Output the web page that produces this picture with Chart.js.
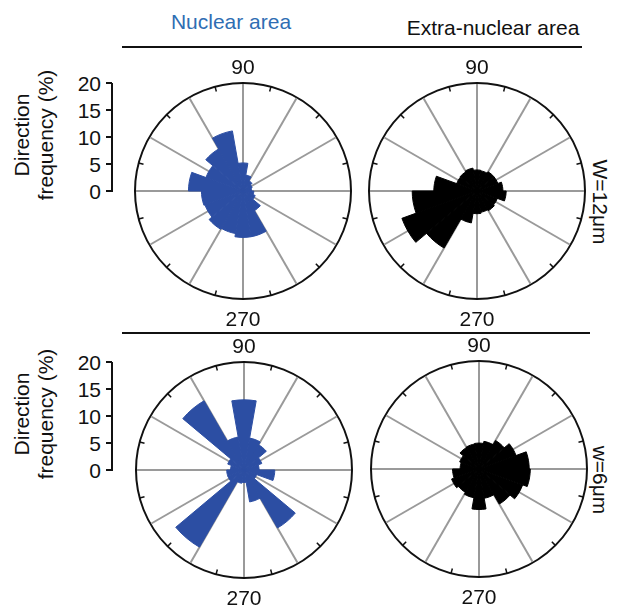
<!DOCTYPE html>
<html>
<head>
<meta charset="utf-8">
<script src="https://cdn.jsdelivr.net/npm/chart.js@4.4.1/dist/chart.umd.min.js"></script>
<style>
  body { margin: 0; background: #fff; }
  #page { position: relative; width: 617px; height: 610px; overflow: hidden; background: #fff;
          font-family: "Liberation Sans", Arial, Helvetica, sans-serif; color: #111; }
  canvas { position: absolute; }
  .txt { position: absolute; font-size: 21px; line-height: 21px; white-space: nowrap; }
  .ctr { transform: translateX(-50%); }
  .hline { position: absolute; height: 2px; background: #111; }
  .rot-l { position: absolute; font-size: 21px; line-height: 24px; text-align: center;
           transform: translate(-50%, -50%) rotate(-90deg); white-space: nowrap; }
  .rot-r { position: absolute; font-size: 21px; line-height: 21px;
           transform: translate(-50%, -50%) rotate(90deg); white-space: nowrap; }
</style>
</head>
<body>
<div id="page">
  <div class="txt ctr" style="left:231px; top:11px; color:#2f6db3;">Nuclear area</div>
  <div class="txt ctr" style="left:493px; top:17px;">Extra-nuclear area</div>
  <div class="hline" style="left:122px; top:46px; width:460px;"></div>
  <div class="hline" style="left:122px; top:332px; width:468px;"></div>

  <div class="rot-l" style="left:34px; top:135px;">Direction<br>frequency (%)</div>
  <div class="rot-l" style="left:34px; top:414px;">Direction<br>frequency (%)</div>
  <div class="rot-r" style="left:600px; top:202px;">W=12μm</div>
  <div class="rot-r" style="left:600px; top:480px;">w=6μm</div>

  <canvas id="roseA"></canvas>
  <canvas id="roseB"></canvas>
  <canvas id="roseC"></canvas>
  <canvas id="roseD"></canvas>
</div>

<script>
// direction bins (20 deg wide), centre angle in degrees
const binCenters = [10, 30, 50, 70, 90, 110, 130, 150, 170, 190, 210, 230, 250, 270, 290, 310, 330, 350];

// direction frequency (%) per bin
const nuclearW12 = [1.6, 1.8, 2.2, 3, 5.2, 11.3, 9, 7.3, 10.1, 7.7, 7.5, 8.2, 8, 8.6, 8.6, 4.2, 2.4, 2];
const extraW12   = [4.8, 4.1, 4.1, 3.8, 3.9, 4.3, 4.1, 4, 8, 12, 14.8, 12.2, 6, 4.2, 4, 4.2, 4, 5.4];
const nuclearW6  = [2.8, 3.5, 5.4, 6, 13, 6.2, 14.8, 3.2, 2.5, 3.2, 3.2, 16.5, 2.5, 2.3, 6, 12.4, 2.5, 5.7];
const extraW6    = [9.3, 7.3, 6.1, 5.2, 4.8, 4.7, 4.6, 3.8, 3.5, 4.9, 5.4, 5, 5.4, 7.5, 5.5, 7.5, 8.6, 9.5];

const freqTicks = [0, 5, 10, 15, 20];
const spokeAngles = [0, 30, 60, 90, 120, 150, 180, 210, 240, 270, 300, 330];
const angleLabels = ["90", "270"];

const R = 108;
const PAD = 6;
const blue = "#2c4ea3";
const black = "#000000";

const spokes = {
  id: "spokes",
  beforeDatasetsDraw(chart) {
    const s = chart.scales.r;
    const ctx = chart.ctx;
    const cx = s.xCenter, cy = s.yCenter, r = s.drawingArea;
    ctx.save();
    ctx.strokeStyle = "#9a9a9a";
    ctx.lineWidth = 2;
    spokeAngles.forEach(a => {
      const t = a * Math.PI / 180;
      ctx.beginPath();
      ctx.moveTo(cx, cy);
      ctx.lineTo(cx + (r - 1) * Math.cos(t), cy - (r - 1) * Math.sin(t));
      ctx.stroke();
    });
    // small ticks on the rim, half way between spokes
    ctx.strokeStyle = "#111";
    ctx.lineWidth = 1.5;
    spokeAngles.forEach(a => {
      const t = (a + 15) * Math.PI / 180;
      ctx.beginPath();
      ctx.moveTo(cx + (r - 5) * Math.cos(t), cy - (r - 5) * Math.sin(t));
      ctx.lineTo(cx + r * Math.cos(t), cy - r * Math.sin(t));
      ctx.stroke();
    });
    ctx.restore();
  }
};

const page = document.getElementById("page");

function addText(text, x, y, cls, style) {
  const d = document.createElement("div");
  d.className = cls;
  d.textContent = text;
  d.style.left = x + "px";
  d.style.top = y + "px";
  if (style) Object.assign(d.style, style);
  page.appendChild(d);
  return d;
}

function rose(id, values, color, cx, cy, withAxis) {
  const cv = document.getElementById(id);
  const size = 2 * (R + PAD);
  cv.width = size;
  cv.height = size;
  cv.style.width = size + "px";
  cv.style.height = size + "px";
  cv.style.left = (cx - R - PAD) + "px";
  cv.style.top = (cy - R - PAD) + "px";

  // polar area runs clockwise from 3 o'clock, so feed bins from 350 down to 10
  const labels = binCenters.slice().reverse();
  const data = values.slice().reverse();

  const chart = new Chart(cv, {
    type: "polarArea",
    data: {
      labels: labels,
      datasets: [{
        data: data,
        backgroundColor: color,
        borderColor: color,
        borderWidth: 1
      }]
    },
    options: {
      responsive: false,
      animation: false,
      layout: { padding: PAD },
      plugins: {
        legend: { display: false },
        tooltip: { enabled: false }
      },
      scales: {
        r: {
          min: 0,
          max: 20,
          startAngle: 90,
          ticks: { display: false, stepSize: 20 },
          grid: { circular: true, color: "#111", lineWidth: 2 },
          angleLines: { display: false },
          pointLabels: { display: false }
        }
      }
    },
    plugins: [spokes]
  });

  const s = chart.scales.r;
  const top = cy - R - PAD;
  const left = cx - R - PAD;
  const xc = left + s.xCenter;
  const yc = top + s.yCenter;
  const rim = s.getDistanceFromCenterForValue(20);

  addText(angleLabels[0], xc, yc - rim - 27, "txt ctr");
  addText(angleLabels[1], xc, yc + rim + 9, "txt ctr");

  if (withAxis) {
    const axisX = 111;
    const y0 = yc - s.getDistanceFromCenterForValue(0);
    const y1 = yc - s.getDistanceFromCenterForValue(20);
    const line = document.createElement("div");
    Object.assign(line.style, { position: "absolute", left: axisX + "px", top: y1 + "px",
      width: "2px", height: (y0 - y1 + 1) + "px", background: "#111" });
    page.appendChild(line);
    freqTicks.forEach(v => {
      const y = yc - s.getDistanceFromCenterForValue(v);
      const tk = document.createElement("div");
      Object.assign(tk.style, { position: "absolute", left: (axisX - 5) + "px", top: (y - 1) + "px",
        width: "6px", height: "2px", background: "#111" });
      page.appendChild(tk);
      addText(String(v), 0, y - 10, "txt", { width: "101px", textAlign: "right" });
    });
  }
  return chart;
}

rose("roseA", nuclearW12, blue, 243, 191, true);
rose("roseB", extraW12, black, 477, 191, false);
rose("roseC", nuclearW6, blue, 244, 470, true);
rose("roseD", extraW6, black, 479, 469, false);
</script>
</body>
</html>
